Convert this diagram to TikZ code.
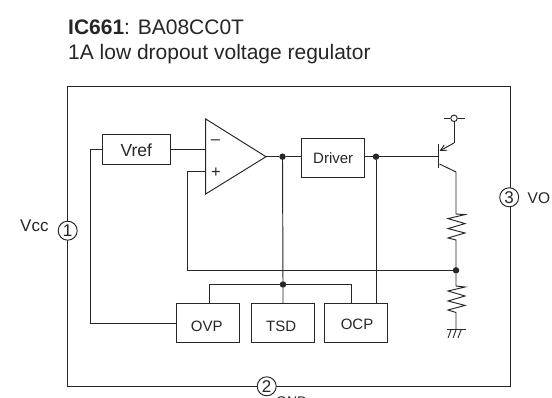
\documentclass[tikz,border=0pt]{standalone}
\usepackage{fontspec}
\setmainfont{Liberation Sans}
\usetikzlibrary{arrows.meta}
\definecolor{ink}{gray}{0.15}
\tikzset{
  wire/.style={draw=ink,line width=0.95pt},
  blockbox/.style={draw=ink,line width=0.95pt,inner sep=0pt,font=\fontsize{15}{18}\selectfont,text=ink,text height=14.4pt,text depth=0pt},
  pin/.style={circle,draw=ink,fill=white,line width=0.95pt,minimum size=19pt,inner sep=0pt,font=\fontsize{17}{18}\selectfont,text=ink},
  label/.style={inner sep=0pt,text=ink,font=\fontsize{16.5}{18}\selectfont},
  titletext/.style={anchor=base west,inner sep=0pt,text=ink,font=\fontsize{21}{24}\selectfont},
  dotj/.style={circle,fill=ink,minimum size=6.5pt,inner sep=0pt}
}
\begin{document}
\begin{tikzpicture}[x=1pt,y=-1pt]
\useasboundingbox (0,0) rectangle (552,398);
\clip (0,0) rectangle (552,398);
\fill[white] (0,0) rectangle (552,398);
% title
\node[titletext] (t1) at (68,35) {\textbf{IC661}: BA08CC0T};
\node[titletext] (t2) at (68,60) {1A low dropout voltage regulator};
% frame
\coordinate (fa) at (67.5,86.8);
\coordinate (fb) at (510,386.5);
\draw[wire] (fa) rectangle (fb);
% blocks
\node[blockbox,minimum width=68pt,minimum height=30pt,font=\fontsize{17.5}{20}\selectfont] (vref) at (136.3,149.8) {Vref};
\node[blockbox,minimum width=63pt,minimum height=39pt,text height=11pt] (driver) at (333.2,157.8) {Driver};
\node[blockbox,minimum width=62.6pt,minimum height=39pt,text height=16.4pt] (ovp) at (208,322.8) {\kern-2.6pt OVP};
\node[blockbox,minimum width=63pt,minimum height=39pt,text height=16.4pt] (tsd) at (283.2,322.8) {\kern-4pt TSD};
\node[blockbox,minimum width=62.6pt,minimum height=39pt] (ocp) at (356,322.8) {\kern2pt OCP};
% op amp
\coordinate (oa) at (205.7,119);
\coordinate (ob) at (205.7,194);
\coordinate (oc) at (266,156.7);
\coordinate (om) at (205.7,149);
\coordinate (op) at (205.7,171.7);
\draw[wire,fill=white,line join=miter] (oa) -- (oc) -- (ob) -- cycle;
\node[label] (minus) at (215.5,142.5) {–};
\node[label] (plus) at (216,172.5) {+};
% junctions
\node[dotj] (j1) at (282.5,156.7) {};
\node[dotj] (j2) at (376,156.7) {};
\node[dotj] (j3) at (283,284.5) {};
\node[dotj] (j4) at (456,270.3) {};
% wires
\draw[wire] (oc) -- (j1) -- (j1 -| driver.west);
\draw[wire] (j1) -- (j3) -- (j3 |- tsd.north);
\draw[wire] (j3) -| (209,0 |- ovp.north);
\draw[wire] (j3) -| (351.3,0 |- ocp.north);
\draw[wire] (j2 -| driver.east) -- (j2) -- (j2 |- ocp.north);
\draw[wire] (vref.east |- om) -- (om);
\coordinate (lw1) at (90,149);
\coordinate (lw2) at (90,323);
\draw[wire] (vref.west |- lw1) -- (lw1) -- (lw2) -- (ovp.west |- lw2);
\coordinate (fbk) at (187.7,270.3);
\draw[wire] (op) -- (fbk |- op) -- (fbk) -- (j4);
% transistor
\coordinate (base) at (438.5,157.7);
\draw[wire] (j2) -- (j2 -| base);
\draw[draw=ink,line width=1.7pt] (438.5,144.5) -- (438.5,168);
\coordinate (eknee) at (454,143);
\coordinate (vtop) at (454,118.3);
\node[circle,draw=ink,fill=white,line width=0.95pt,minimum size=6.5pt,inner sep=0pt] (vc) at (vtop) {};
\draw[wire] (443.5,118.3) -- (vc) -- (464.5,118.3);
\draw[wire] (vc) -- (eknee);
\draw[wire,-{Straight Barb[length=6pt,width=6pt]}] (eknee) -- (439.5,151);
\coordinate (cknee) at (456,172);
\draw[wire] (439.5,164) -- (cknee);
% resistors
\draw[wire,line join=miter] (cknee) -- (456,214) -- (465,214.6) -- (448,218.6) -- (465,223.6) -- (448,228.6) -- (465,233) -- (448,238) -- (456,240) -- (j4);
\coordinate (gnd) at (456,329.5);
\draw[wire,line join=miter] (j4) -- (456,286) -- (465,287) -- (448,291) -- (465,296) -- (448,301) -- (465,305.4) -- (448,310) -- (456,312.5) -- (gnd);
% ground
\draw[wire] (447,329.5) -- (465.5,329.5);
\draw[draw=ink,line width=0.9pt] (451,330) -- (448,338) (456,330) -- (453,338) (461,330) -- (458,338);
% pins
\node[pin] (p1) at (67.7,230.7) {1};
\node[pin] (p2) at (266.7,386.3) {2};
\node[pin] (p3) at (509.2,197.3) {3};
\node[label,anchor=base west,font=\fontsize{17}{18}\selectfont] (vcc) at (20,232) {Vcc};
\node[label,anchor=base west,font=\fontsize{15.5}{18}\selectfont] (vo) at (527.5,203.3) {VO};
\node[label,anchor=base west,font=\fontsize{14}{16}\selectfont] (g) at (276,406.5) {GND};
\end{tikzpicture}
\end{document}
